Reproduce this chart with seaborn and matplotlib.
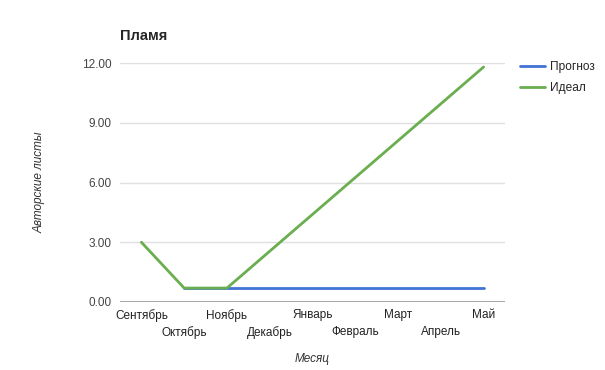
import matplotlib
matplotlib.use("Agg")
import matplotlib.pyplot as plt
import seaborn as sns
import pandas as pd
import numpy as np

months = ["Сентябрь", "Октябрь", "Ноябрь", "Декабрь", "Январь", "Февраль", "Март", "Апрель", "Май"]
prognoz = [np.nan, 0.7, 0.7, 0.7, 0.7, 0.7, 0.7, 0.7, 0.7]
ideal = [3.0, 0.7, 0.7, 2.55, 4.4, 6.25, 8.1, 9.95, 11.8]
series_names = ["Прогноз", "Идеал"]
yticks = [0, 3, 6, 9, 12]

df = pd.DataFrame({
    "Месяц": list(range(len(months))) * 2,
    "value": prognoz + ideal,
    "series": [series_names[0]] * len(months) + [series_names[1]] * len(months),
})

sns.set_style("white")
plt.rcParams["font.family"] = ["Liberation Sans", "DejaVu Sans"]

fig = plt.figure(figsize=(6.05, 3.7), dpi=100)
ax = fig.add_axes([120 / 605, 1 - 302 / 370, 385 / 605, 239 / 370])

palette = {series_names[0]: "#4172d6", series_names[1]: "#6aae4f"}
sns.lineplot(data=df, x="Месяц", y="value", hue="series", palette=palette,
             linewidth=2, ax=ax, legend=False, sort=False)

ax.set_xlim(-0.5, len(months) - 0.5)
ax.set_ylim(0, 12)
ax.set_yticks(yticks)
ax.set_yticklabels([f"{v:.2f}" for v in yticks], color="#444444", fontsize=8.5)
ax.set_xticks(range(len(months)))
ax.set_xticklabels(months, color="#222222", fontsize=8.5)
ax.tick_params(axis="both", length=0, pad=6)
for i, t in enumerate(ax.xaxis.get_major_ticks()):
    t.set_pad(5 if i % 2 == 0 else 17.5)
for s in ax.spines.values():
    s.set_visible(False)
ax.grid(axis="y", color="#e0e0e0", linewidth=1)
ax.set_axisbelow(True)
ax.axhline(0, color="#999999", linewidth=1.2, zorder=1)

ax.set_xlabel("Месяц", fontstyle="italic", color="#333333", fontsize=8.5, labelpad=10)
ax.set_ylabel("Авторские листы", fontstyle="italic", color="#333333", fontsize=8.5, labelpad=26)

fig.text(120 / 605, 1 - 36 / 370, "Пламя", fontsize=10.5, fontweight="bold", va="center", ha="left")

from matplotlib.lines import Line2D
handles = [Line2D([0], [0], color=palette[n], linewidth=2) for n in series_names]
fig.legend(handles, series_names, loc="upper left", bbox_to_anchor=(520 / 605, 1 - 61 / 370),
           frameon=False, fontsize=8.6, handlelength=2.1, handletextpad=0.4, labelspacing=0.75,
           borderaxespad=0, borderpad=0)

fig.savefig("out.png", dpi=100)
